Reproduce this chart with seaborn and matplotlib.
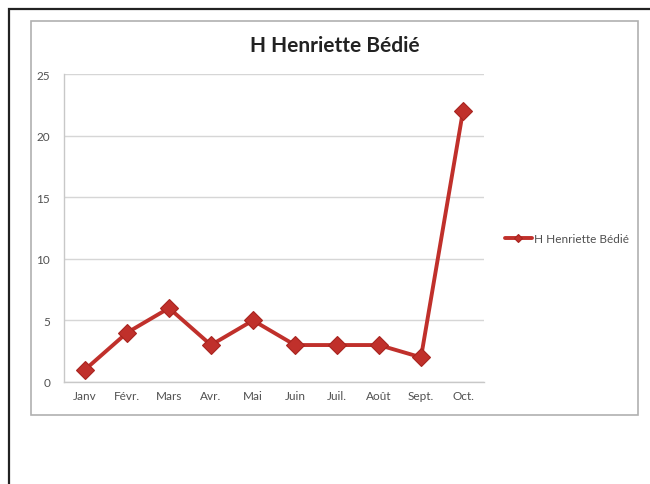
import pandas as pd
import numpy as np
import matplotlib.pyplot as plt
import seaborn as sns
from matplotlib.patches import Rectangle

# Data
months = ['Janv', 'Févr.', 'Mars', 'Avr.', 'Mai', 'Juin', 'Juil.', 'Août', 'Sept.', 'Oct.']
values = [1, 4, 6, 3, 5, 3, 3, 3, 2, 22]
series_name = 'H Henriette Bédié'
y_ticks = [0, 5, 10, 15, 20, 25]

df = pd.DataFrame({'mois': months, 'valeur': values})

sns.set_style('white')
plt.rcParams['font.family'] = ['Lato', 'DejaVu Sans']

W, H = 650, 485
fig = plt.figure(figsize=(W / 100, H / 100), dpi=100)

# outer black frame and inner grey chart box
fig.patches.append(Rectangle((9 / W, -0.1), 1.2, 1 - 10 / H + 0.1, transform=fig.transFigure,
                             fill=False, edgecolor='#222222', linewidth=1.6, zorder=0))
fig.patches.append(Rectangle((31 / W, 1 - 416 / H), (638 - 31) / W, (416 - 22) / H,
                             transform=fig.transFigure, fill=False, edgecolor='#b0b0b0',
                             linewidth=1.2, zorder=0))

ax = fig.add_axes([64 / W, 1 - 383 / H, 420 / W, 308 / H])
line_color = '#c0302b'
sns.lineplot(data=df, x='mois', y='valeur', ax=ax, color=line_color, linewidth=2.8,
             marker='D', markersize=9, markeredgecolor='#a8241f', markeredgewidth=0.8,
             label=series_name, sort=False)

ax.set_xlim(-0.5, len(months) - 0.5)
ax.set_ylim(0, 25)
ax.set_yticks(y_ticks)
ax.set_xticks(range(len(months)))
ax.set_xticklabels(months)
ax.set_xticks(np.arange(-0.5, len(months)), minor=True)
ax.tick_params(axis='x', which='major', length=0, labelsize=8.5, colors='#505050', pad=6)
ax.tick_params(axis='x', which='minor', length=3, color='#bbbbbb', width=1)
ax.tick_params(axis='y', length=3, color='#bbbbbb', labelsize=8.5, colors='#505050', pad=7)
ax.yaxis.grid(True, color='#d6d6d6', linewidth=1)
ax.set_axisbelow(True)
for s in ['top', 'right']:
    ax.spines[s].set_visible(False)
for s in ['left', 'bottom']:
    ax.spines[s].set_color('#c8c8c8')
    ax.spines[s].set_linewidth(1)
ax.set_xlabel('')
ax.set_ylabel('')

fig.text(335 / W, 1 - 46 / H, series_name, ha='center', va='center',
         fontsize=15, fontweight='bold', color='#222222')

ax.legend(loc='center left', bbox_to_anchor=(494 / W, 1 - 240 / H),
          bbox_transform=fig.transFigure, frameon=False, fontsize=8.5,
          handlelength=2.3, handletextpad=0.15, markerscale=0.45, labelcolor='#505050')

fig.savefig('out.png', dpi=100, facecolor='white')
